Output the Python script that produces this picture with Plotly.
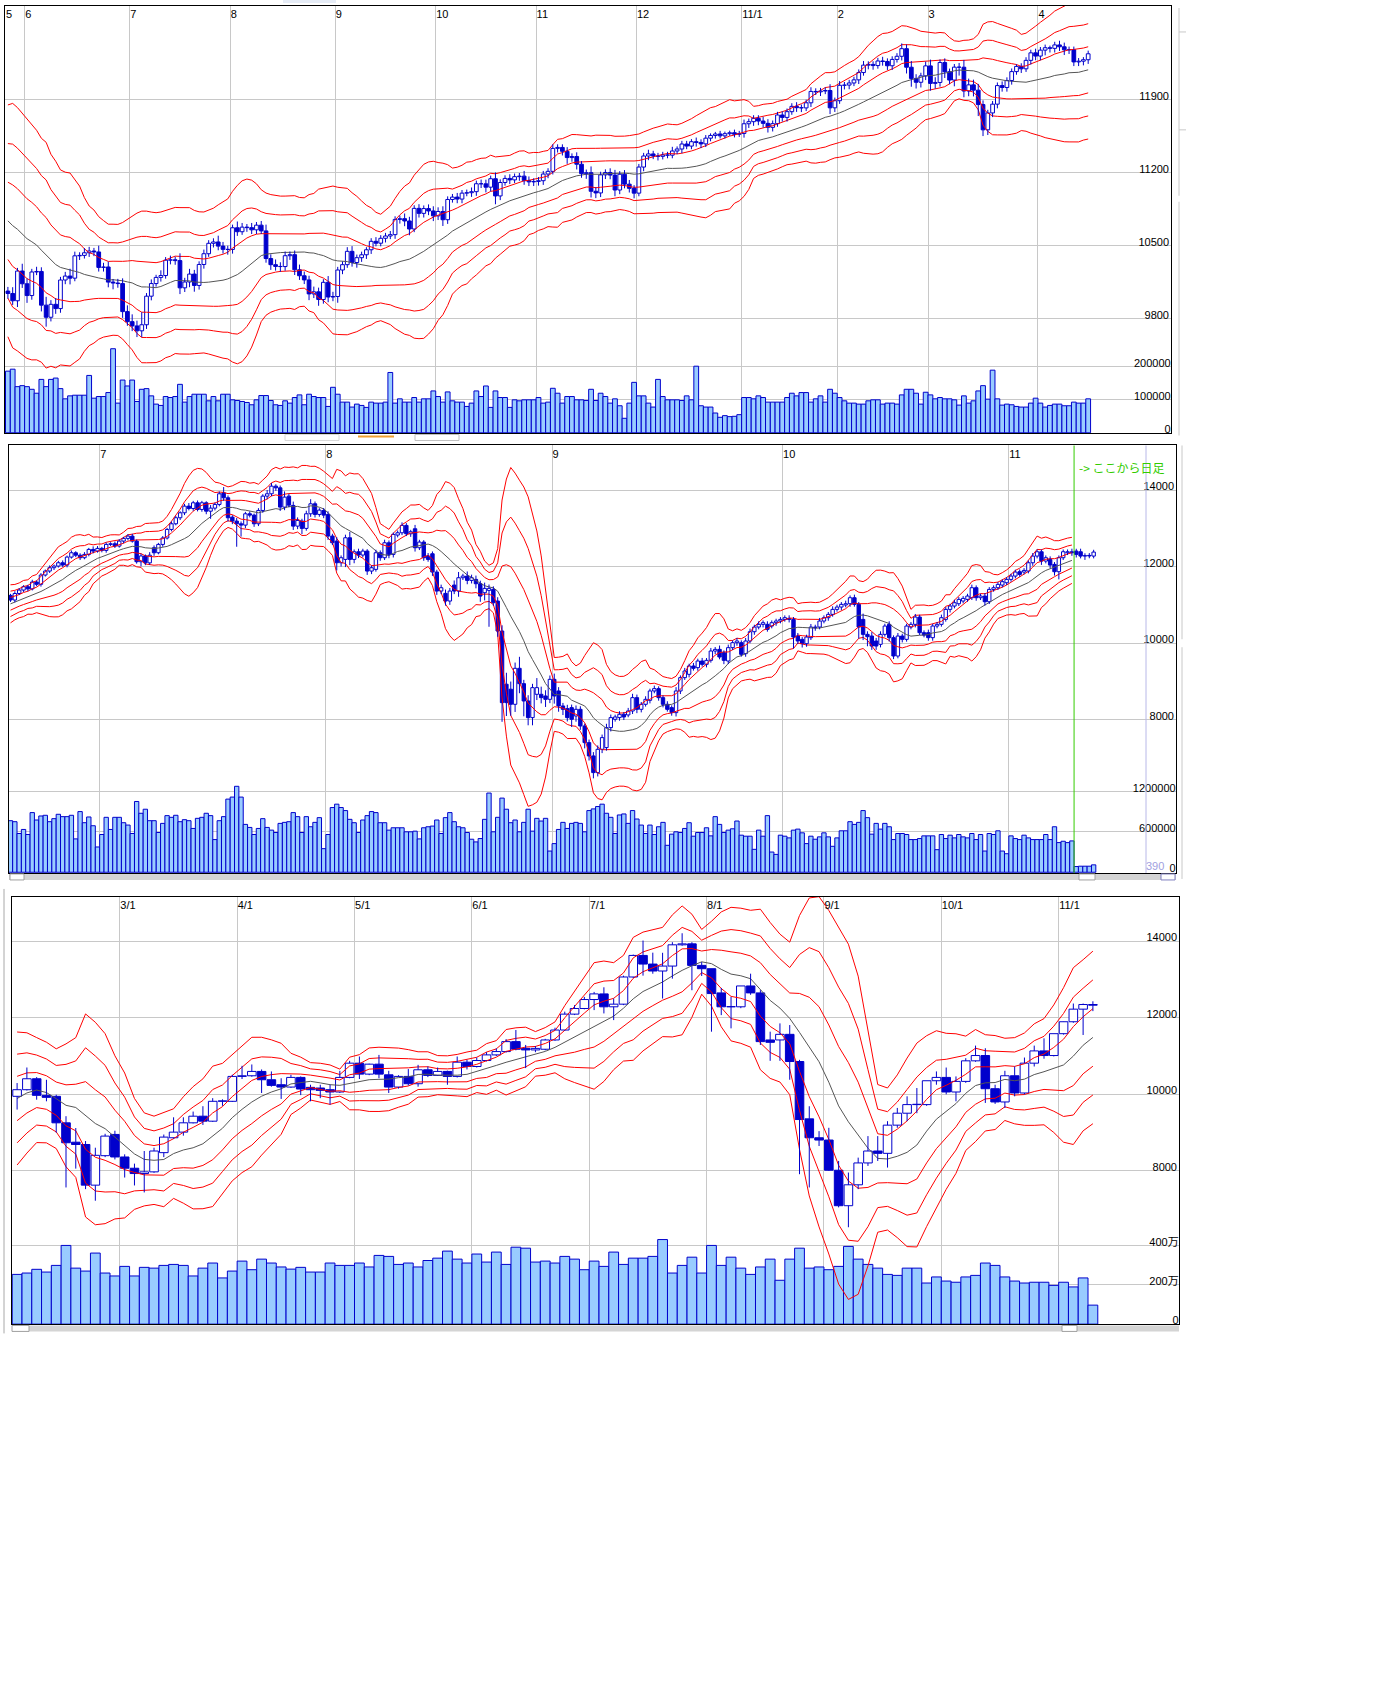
import pandas as pd
import plotly.graph_objects as go

# ---------------------------------------------------------------- data
# Panel 1: daily bars, May 2010 - Apr 2011
p1_months = ["5", "6", "7", "8", "9", "10", "11", "12", "11/1", "2", "3", "4"]
p1_month_start = [0, 4, 26, 47, 69, 90, 111, 132, 154, 174, 193, 216]
p1_lead_close = [11125, 11134, 11204, 11205, 10991, 11045, 11168, 11009, 11151, 10926, 10868, 10520,
                 10380, 10785, 10748, 10897, 10782, 10620, 10625, 10510, 10444, 10068, 10193, 10067]
p1_open = [
    10067, 10044, 9974, 10259, 10137, 10024, 10250, 10255, 9932, 9816,
    9940, 9899, 10173, 10211, 10191, 10405, 10409, 10434, 10451, 10442,
    10294, 10298, 10153, 10144, 10139, 9870, 9774, 9733, 9686, 9744,
    10018, 10139, 10198, 10216, 10363, 10367, 10359, 10098, 10154, 10230,
    10121, 10322, 10425, 10525, 10538, 10498, 10467, 10466, 10674, 10636,
    10680, 10675, 10654, 10699, 10644, 10379, 10320, 10303, 10302, 10406,
    10416, 10271, 10214, 10174, 10040, 10060, 9986, 10151, 10010, 10015,
    10269, 10320, 10448, 10341, 10387, 10415, 10463, 10544, 10526, 10573,
    10595, 10608, 10754, 10761, 10739, 10662, 10860, 10812, 10858, 10835,
    10788, 10830, 10751, 10945, 10968, 10949, 11006, 11010, 11020, 11096,
    11095, 11063, 11144, 10979, 11108, 11147, 11133, 11164, 11169, 11126,
    11114, 11118, 11125, 11189, 11215, 11435, 11444, 11407, 11347, 11357,
    11283, 11193, 11202, 11024, 11008, 11181, 11204, 11179, 11036, 11187,
    11092, 11052, 11006, 11256, 11362, 11382, 11362, 11359, 11372, 11370,
    11410, 11429, 11477, 11457, 11499, 11492, 11478, 11533, 11559, 11573,
    11555, 11576, 11585, 11570, 11578, 11671, 11691, 11723, 11697, 11675,
    11637, 11672, 11755, 11732, 11787, 11838, 11825, 11823, 11872, 11981,
    11977, 11985, 11990, 11824, 11892, 12040, 12042, 12062, 12092, 12162,
    12233, 12240, 12229, 12273, 12268, 12227, 12288, 12318, 12391, 12213,
    12106, 12069, 12130, 12226, 12058, 12067, 12258, 12170, 12090, 12214,
    12213, 11985, 12044, 11993, 11855, 11613, 11775, 11859, 12037, 12019,
    12086, 12171, 12221, 12198, 12279, 12351, 12320, 12377, 12400, 12394,
    12427, 12409, 12380, 12381, 12264, 12271, 12285]
p1_close = [
    10044, 9974, 10259, 10137, 10024, 10250, 10255, 9932, 9816, 9940,
    9899, 10173, 10211, 10191, 10405, 10409, 10434, 10451, 10442, 10294,
    10298, 10153, 10144, 10139, 9870, 9774, 9733, 9686, 9744, 10018,
    10139, 10198, 10216, 10363, 10367, 10359, 10098, 10154, 10230, 10121,
    10322, 10425, 10525, 10538, 10498, 10467, 10466, 10674, 10636, 10680,
    10675, 10654, 10699, 10644, 10379, 10320, 10303, 10302, 10406, 10416,
    10271, 10214, 10174, 10040, 10060, 9986, 10151, 10010, 10015, 10269,
    10320, 10448, 10341, 10387, 10415, 10463, 10544, 10526, 10573, 10595,
    10608, 10754, 10761, 10739, 10662, 10860, 10812, 10858, 10835, 10788,
    10830, 10751, 10945, 10968, 10949, 11006, 11010, 11020, 11096, 11095,
    11063, 11144, 10979, 11108, 11147, 11133, 11164, 11169, 11126, 11114,
    11118, 11125, 11189, 11215, 11435, 11444, 11407, 11347, 11357, 11283,
    11193, 11202, 11024, 11008, 11181, 11204, 11179, 11036, 11187, 11092,
    11052, 11006, 11256, 11362, 11382, 11362, 11359, 11372, 11370, 11410,
    11429, 11477, 11457, 11499, 11492, 11478, 11533, 11559, 11573, 11555,
    11576, 11585, 11570, 11578, 11671, 11691, 11723, 11697, 11675, 11637,
    11672, 11755, 11732, 11787, 11838, 11825, 11823, 11872, 11981, 11977,
    11985, 11990, 11824, 11892, 12040, 12042, 12062, 12092, 12162, 12233,
    12240, 12229, 12273, 12268, 12227, 12288, 12318, 12391, 12213, 12106,
    12069, 12130, 12226, 12058, 12067, 12258, 12170, 12090, 12214, 12213,
    11985, 12044, 11993, 11855, 11613, 11775, 11859, 12037, 12019, 12086,
    12171, 12221, 12198, 12279, 12351, 12320, 12377, 12400, 12394, 12427,
    12409, 12380, 12381, 12264, 12271, 12285, 12342]
p1_wick_up = [
    40, 60, 30, 70, 50, 30, 45, 40, 80, 40,
    60, 30, 40, 70, 40, 30, 45, 40, 30, 60,
    40, 50, 30, 40, 50, 60, 70, 50, 120, 30,
    40, 25, 50, 30, 40, 30, 70, 40, 50, 40,
    30, 40, 30, 35, 60, 40, 35, 30, 60, 40,
    30, 45, 30, 40, 60, 40, 50, 40, 40, 30,
    40, 50, 40, 40, 50, 40, 30, 60, 45, 30,
    30, 40, 50, 30, 30, 25, 30, 40, 30, 30,
    35, 30, 30, 50, 40, 30, 40, 30, 40, 45,
    40, 50, 30, 30, 40, 30, 30, 40, 30, 40,
    40, 30, 60, 30, 30, 40, 30, 30, 50, 40,
    30, 35, 30, 30, 40, 30, 30, 40, 30, 40,
    30, 30, 60, 40, 30, 30, 40, 50, 30, 40,
    40, 30, 30, 30, 40, 30, 30, 30, 30, 40,
    25, 30, 30, 25, 40, 30, 30, 20, 20, 30,
    20, 20, 30, 25, 40, 30, 30, 30, 40, 40,
    30, 30, 35, 30, 30, 40, 30, 30, 40, 30,
    30, 30, 60, 30, 40, 30, 30, 30, 30, 40,
    30, 30, 30, 40, 30, 30, 30, 50, 40, 60,
    40, 30, 40, 60, 50, 30, 40, 30, 30, 40,
    70, 60, 50, 60, 40, 30, 30, 30, 40, 30,
    30, 20, 30, 30, 30, 40, 30, 30, 20, 30,
    40, 40, 30, 30, 30, 25, 30]
p1_wick_dn = [
    50, 40, 60, 40, 70, 40, 30, 60, 90, 40,
    50, 40, 40, 60, 30, 40, 30, 40, 40, 40,
    40, 50, 60, 40, 60, 40, 50, 60, 60, 40,
    40, 30, 40, 30, 40, 40, 60, 40, 50, 60,
    40, 40, 30, 40, 40, 40, 50, 40, 40, 30,
    40, 40, 40, 30, 40, 50, 40, 50, 40, 40,
    50, 40, 40, 60, 40, 60, 40, 50, 40, 60,
    40, 30, 40, 50, 40, 40, 40, 30, 30, 40,
    30, 40, 40, 50, 60, 30, 40, 40, 40, 50,
    40, 60, 40, 30, 40, 40, 30, 40, 40, 40,
    50, 40, 80, 40, 30, 40, 30, 40, 40, 40,
    40, 40, 40, 40, 30, 40, 40, 60, 40, 50,
    40, 50, 60, 50, 40, 40, 40, 60, 40, 40,
    40, 50, 30, 40, 40, 30, 40, 30, 30, 30,
    30, 40, 30, 30, 40, 40, 30, 30, 30, 25,
    25, 20, 30, 25, 40, 40, 40, 40, 40, 50,
    40, 30, 40, 40, 30, 40, 40, 30, 40, 30,
    40, 30, 60, 40, 30, 40, 40, 30, 40, 30,
    40, 40, 30, 40, 40, 40, 30, 40, 60, 80,
    60, 50, 40, 70, 50, 40, 60, 40, 60, 80,
    60, 50, 60, 110, 60, 50, 40, 40, 40, 40,
    40, 30, 40, 30, 40, 40, 40, 50, 40, 40,
    40, 50, 40, 40, 40, 40, 40]
p1_volume = [
    187000, 193000, 140000, 143000, 140000, 132000, 120000, 162000, 140000, 162000,
    166000, 134000, 103000, 112000, 114000, 114000, 114000, 174000, 105000, 110000,
    110000, 122000, 255000, 90000, 160000, 142000, 160000, 95000, 132000, 134000,
    112000, 87000, 83000, 110000, 107000, 110000, 147000, 93000, 110000, 117000,
    117000, 117000, 97000, 110000, 97000, 117000, 117000, 100000, 98000, 95000,
    92000, 85000, 100000, 113000, 113000, 98000, 85000, 83000, 97000, 90000,
    107000, 115000, 85000, 117000, 110000, 107000, 107000, 80000, 138000, 117000,
    93000, 93000, 78000, 87000, 83000, 77000, 93000, 90000, 90000, 93000,
    183000, 90000, 103000, 93000, 93000, 107000, 93000, 103000, 103000, 127000,
    110000, 93000, 124000, 97000, 93000, 93000, 80000, 90000, 127000, 110000,
    142000, 77000, 127000, 107000, 107000, 77000, 100000, 97000, 100000, 100000,
    100000, 107000, 90000, 93000, 135000, 120000, 90000, 110000, 110000, 100000,
    100000, 98000, 132000, 98000, 120000, 110000, 90000, 103000, 82000, 44000,
    90000, 153000, 112000, 112000, 90000, 78000, 162000, 110000, 100000, 100000,
    100000, 98000, 112000, 100000, 202000, 82000, 78000, 78000, 60000, 47000,
    52000, 49000, 50000, 55000, 107000, 107000, 103000, 112000, 107000, 93000,
    93000, 93000, 93000, 107000, 120000, 112000, 122000, 122000, 93000, 103000,
    112000, 93000, 132000, 120000, 107000, 97000, 90000, 90000, 87000, 87000,
    97000, 100000, 100000, 87000, 90000, 90000, 87000, 115000, 132000, 132000,
    120000, 87000, 123000, 115000, 103000, 107000, 103000, 103000, 100000, 84000,
    112000, 90000, 97000, 127000, 143000, 102000, 190000, 103000, 84000, 87000,
    85000, 80000, 78000, 78000, 90000, 105000, 90000, 78000, 83000, 87000,
    87000, 82000, 82000, 93000, 90000, 90000, 103000]
p1_price_ticks = [9800, 10500, 11200, 11900]
p1_volume_ticks = [0, 100000, 200000]
p1_volume_labels = ["0", "100000", "200000"]

# Panel 2: intraday bars Jun-Nov, daily bars after the marker
p2_months = ["7", "8", "9", "10", "11"]
p2_month_start = [21, 73, 125, 178, 230]
p2_daily_start = 245
p2_lead_close = [10720, 10790, 10850, 10900, 10980, 11010, 11060, 11120, 11150, 11200, 11230, 11251]
p2_open = [
    11251, 11130, 11300, 11390, 11477, 11420, 11599, 11540, 11782, 11886,
    11973, 12016, 12103, 12043, 12251, 12364, 12300, 12234, 12321, 12451,
    12408, 12478, 12425, 12582, 12599, 12538, 12669, 12739, 12799, 12669,
    12130, 12280, 12100, 12495, 12364, 12582, 12750, 12973, 13121, 13278,
    13408, 13582, 13521, 13669, 13495, 13669, 13450, 13530, 13626, 13930,
    13800, 13295, 13191, 13121, 13086, 13382, 13347, 13121, 13469, 13843,
    13904, 14104, 14060, 13556, 13843, 13600, 13060, 13191, 13000, 13382,
    13643, 13365, 13469, 13365, 12800, 12669, 12103, 12190, 12756, 12190,
    12390, 12304, 12408, 11886, 11930, 12364, 12234, 12625, 12321, 12826,
    12886, 13078, 12860, 12991, 12495, 12643, 12277, 12338, 11860, 11364,
    11303, 11103, 11520, 11364, 11712, 11755, 11642, 11668, 11555, 11320,
    11381, 11407, 11103, 10320, 8930, 8800, 8406, 9346, 8945, 8493,
    8058, 8667, 8667, 8623, 8536, 9058, 8754, 8362, 8293, 8319,
    8101, 8275, 7840, 7405, 7057, 6622, 7231, 7275, 7797, 8014,
    8058, 8145, 8128, 8232, 8580, 8275, 8406, 8510, 8754, 8815,
    8580, 8406, 8319, 8188, 8754, 9102, 9189, 9406, 9363, 9537,
    9450, 9554, 9798, 9841, 9754, 9537, 9885, 10015, 10015, 9728,
    10059, 10302, 10424, 10494, 10494, 10450, 10537, 10581, 10624, 10650,
    10624, 10189, 10102, 9989, 10146, 10424, 10424, 10581, 10668, 10755,
    10885, 10946, 11000, 11033, 11190, 11016, 10624, 10233, 10189, 10059,
    9972, 10233, 10494, 10146, 9667, 10189, 10102, 10424, 10494, 10685,
    10276, 10276, 10146, 10450, 10494, 10624, 10885, 10972, 11033, 11103,
    11146, 11190, 11451, 11190, 11233, 11085, 11407, 11451, 11520, 11581,
    11668, 11755, 11869, 11860, 11886, 12103, 12277, 12390, 12147, 12190,
    12060, 11869, 12234, 12364, 12390, 12408, 12390, 12277, 12295, 12277]
p2_close = [
    11130, 11300, 11390, 11477, 11420, 11599, 11540, 11782, 11886, 11973,
    12016, 12103, 12043, 12251, 12364, 12300, 12234, 12321, 12451, 12408,
    12478, 12425, 12582, 12599, 12538, 12669, 12739, 12799, 12669, 12130,
    12280, 12100, 12300, 12364, 12582, 12750, 12973, 13121, 13278, 13408,
    13582, 13521, 13669, 13495, 13669, 13450, 13530, 13626, 13904, 13800,
    13278, 13191, 13121, 13086, 13382, 13347, 13121, 13469, 13843, 13904,
    14104, 14060, 13556, 13817, 13608, 13060, 13208, 13000, 13382, 13643,
    13365, 13478, 13347, 12800, 12625, 12103, 12234, 12756, 12190, 12390,
    12304, 12408, 11886, 11973, 12364, 12234, 12625, 12321, 12843, 12886,
    13078, 12860, 12913, 12495, 12643, 12234, 12190, 11860, 11364, 11451,
    11103, 11364, 11364, 11712, 11755, 11642, 11712, 11555, 11233, 11434,
    11434, 11059, 10320, 8449, 8450, 8406, 9346, 8945, 8493, 8058,
    8841, 8841, 8580, 8536, 9058, 8623, 8362, 8275, 8058, 8014,
    8275, 7840, 7405, 7057, 6622, 7231, 7536, 7797, 8058, 8075,
    8145, 8075, 8232, 8580, 8275, 8406, 8536, 8754, 8815, 8580,
    8406, 8275, 8188, 8754, 9102, 9276, 9406, 9346, 9537, 9450,
    9554, 9798, 9841, 9641, 9554, 9885, 10015, 10059, 9711, 10059,
    10302, 10424, 10494, 10537, 10363, 10537, 10581, 10624, 10668, 10624,
    10163, 10059, 9989, 10163, 10424, 10407, 10581, 10668, 10755, 10885,
    10946, 11016, 11033, 11190, 11016, 10424, 10233, 10172, 9928, 9928,
    10233, 10450, 10146, 9667, 10189, 10102, 10450, 10494, 10685, 10276,
    10215, 10146, 10450, 10494, 10668, 10885, 10972, 11059, 11146, 11172,
    11233, 11451, 11190, 11233, 11085, 11407, 11451, 11538, 11608, 11668,
    11755, 11860, 11799, 11903, 12103, 12277, 12390, 12147, 12234, 12043,
    11869, 12234, 12390, 12390, 12364, 12321, 12277, 12290, 12280, 12382]
p2_wick_up = [
    40, 60, 50, 40, 50, 60, 40, 50, 40, 60,
    40, 50, 60, 40, 60, 40, 50, 60, 40, 80,
    60, 40, 50, 40, 60, 50, 40, 50, 60, 40,
    60, 40, 80, 60, 40, 50, 40, 60, 50, 40,
    60, 80, 50, 60, 50, 40, 80, 50, 60, 150,
    60, 50, 80, 60, 50, 60, 40, 60, 50, 100,
    80, 50, 60, 150, 60, 100, 80, 60, 80, 120,
    60, 50, 60, 80, 60, 100, 60, 80, 150, 60,
    80, 60, 50, 60, 80, 60, 80, 60, 50, 60,
    80, 60, 50, 100, 60, 50, 80, 60, 60, 80,
    100, 80, 120, 150, 60, 120, 80, 100, 80, 150,
    100, 80, 100, 150, 300, 200, 150, 300, 100, 150,
    100, 250, 200, 150, 100, 150, 100, 80, 100, 80,
    100, 80, 60, 80, 100, 100, 80, 100, 80, 60,
    80, 60, 80, 100, 80, 60, 80, 60, 80, 60,
    60, 80, 60, 100, 60, 80, 60, 80, 60, 80,
    60, 80, 60, 100, 60, 80, 60, 80, 60, 80,
    80, 60, 80, 60, 80, 60, 60, 60, 60, 80,
    60, 80, 60, 60, 80, 60, 80, 60, 60, 80,
    60, 60, 80, 60, 80, 60, 150, 80, 100, 80,
    80, 60, 80, 60, 80, 60, 60, 60, 80, 60,
    60, 80, 60, 60, 80, 60, 60, 80, 60, 60,
    60, 80, 60, 60, 80, 60, 60, 60, 60, 60,
    60, 60, 60, 60, 60, 80, 60, 60, 60, 80,
    60, 60, 60, 60, 80, 60, 80, 60, 60, 60]
p2_wick_dn = [
    50, 60, 40, 50, 60, 40, 50, 60, 40, 50,
    60, 40, 50, 60, 40, 50, 60, 40, 50, 60,
    40, 50, 60, 40, 50, 40, 60, 50, 40, 50,
    120, 60, 50, 80, 40, 60, 40, 50, 40, 60,
    60, 50, 60, 50, 60, 80, 200, 60, 50, 80,
    100, 80, 600, 300, 80, 60, 80, 60, 60, 80,
    60, 80, 100, 80, 60, 100, 80, 150, 60, 80,
    80, 60, 80, 100, 60, 200, 100, 200, 150, 100,
    80, 60, 100, 80, 60, 80, 60, 100, 80, 60,
    60, 60, 80, 100, 60, 80, 60, 100, 100, 80,
    120, 100, 80, 150, 60, 100, 80, 120, 150, 200,
    950, 80, 150, 500, 350, 300, 200, 250, 400, 200,
    200, 150, 150, 200, 100, 200, 150, 150, 100, 200,
    150, 100, 150, 120, 150, 100, 100, 80, 100, 60,
    80, 80, 60, 80, 100, 80, 60, 80, 60, 80,
    80, 60, 80, 100, 80, 60, 80, 60, 80, 60,
    80, 60, 80, 60, 100, 80, 60, 80, 60, 80,
    60, 80, 60, 80, 60, 60, 80, 60, 60, 80,
    300, 80, 100, 80, 60, 80, 60, 60, 80, 60,
    60, 80, 60, 80, 60, 300, 150, 250, 100, 100,
    80, 60, 100, 80, 60, 80, 60, 60, 80, 60,
    60, 80, 80, 60, 60, 60, 80, 60, 60, 60,
    60, 60, 80, 60, 100, 60, 60, 60, 60, 60,
    60, 60, 60, 60, 60, 80, 60, 100, 60, 80,
    100, 200, 60, 60, 80, 80, 60, 100, 60, 60]
p2_volume = [
    765000, 750000, 575000, 635000, 560000, 885000, 775000, 835000, 845000, 750000,
    795000, 860000, 825000, 825000, 845000, 495000, 900000, 735000, 820000, 690000,
    375000, 560000, 815000, 635000, 815000, 815000, 735000, 700000, 575000, 1050000,
    875000, 935000, 765000, 765000, 590000, 725000, 840000, 815000, 845000, 750000,
    780000, 765000, 650000, 800000, 815000, 875000, 840000, 485000, 765000, 825000,
    1085000, 1115000, 1275000, 1115000, 710000, 665000, 560000, 650000, 795000, 665000,
    625000, 590000, 725000, 740000, 750000, 885000, 825000, 590000, 825000, 675000,
    740000, 810000, 350000, 560000, 960000, 1010000, 960000, 915000, 785000, 735000,
    590000, 775000, 840000, 900000, 885000, 735000, 735000, 625000, 660000, 660000,
    660000, 600000, 600000, 610000, 495000, 660000, 675000, 685000, 775000, 575000,
    810000, 885000, 750000, 675000, 660000, 590000, 490000, 450000, 500000, 785000,
    1175000, 600000, 815000, 1100000, 935000, 735000, 775000, 600000, 740000, 935000,
    610000, 800000, 760000, 800000, 315000, 425000, 635000, 740000, 650000, 725000,
    740000, 725000, 600000, 915000, 940000, 975000, 1010000, 875000, 815000, 575000,
    850000, 865000, 725000, 915000, 790000, 700000, 575000, 700000, 560000, 675000,
    740000, 400000, 565000, 600000, 590000, 650000, 735000, 535000, 590000, 590000,
    660000, 540000, 825000, 710000, 590000, 625000, 645000, 760000, 550000, 535000,
    535000, 340000, 625000, 535000, 840000, 300000, 265000, 550000, 535000, 510000,
    625000, 640000, 585000, 425000, 535000, 490000, 525000, 585000, 525000, 385000,
    510000, 615000, 615000, 750000, 710000, 740000, 915000, 810000, 565000, 725000,
    640000, 725000, 675000, 485000, 575000, 575000, 560000, 485000, 485000, 500000,
    540000, 540000, 540000, 335000, 560000, 500000, 550000, 510000, 560000, 525000,
    510000, 575000, 485000, 560000, 315000, 575000, 560000, 615000, 315000, 275000,
    540000, 500000, 485000, 550000, 510000, 485000, 485000, 485000, 560000, 485000,
    675000, 440000, 460000, 440000, 465000, 85000, 90000, 90000, 90000, 110000]
p2_price_ticks = [8000, 10000, 12000, 14000]
p2_volume_ticks = [0, 600000, 1200000]
p2_volume_labels = ["0", "600000", "1200000"]

# Panel 3: multi-day bars, Feb - Nov (volume in 万)
p3_months = ["3/1", "4/1", "5/1", "6/1", "7/1", "8/1", "9/1", "10/1", "11/1"]
p3_month_start = [11, 23, 35, 47, 59, 71, 83, 95, 107]
p3_lead_close = [9100, 9300, 10500, 10700, 10300, 9200, 9500, 10300]
p3_open = [
    9948, 10121, 10407, 9974, 9948, 9256, 8750, 8690, 7628, 8398,
    8953, 8364, 8070, 7931, 7975, 8477, 8866, 9013, 9256, 9429,
    9299, 9818, 9818, 10468, 10485, 10598, 10381, 10251, 10190, 10442,
    10182, 10165, 10121, 10061, 10442, 10814, 10528, 10788, 10510, 10190,
    10468, 10277, 10641, 10494, 10598, 10468, 10840, 10727, 10883, 11030,
    11117, 11377, 11200, 11160, 11178, 11420, 11680, 12095, 12242, 12476,
    12623, 12286, 12355, 13065, 13628, 13402, 13221, 13350, 13905, 13930,
    13368, 13281, 12649, 12286, 12286, 12831, 12649, 11420, 11420, 11567,
    10857, 9360, 8866, 8806, 8018, 7091, 7637, 8208, 8520, 8459,
    9195, 9507, 9732, 9732, 10355, 10442, 10061, 10338, 10875, 11013,
    10147, 9801, 10485, 10035, 10814, 11134, 11013, 11584, 11896, 12225,
    12346]
p3_high = [
    10295, 10701, 10450, 10380, 9990, 9429, 9120, 8780, 8606, 8970,
    9050, 8433, 8190, 8520, 8606, 8950, 9400, 9400, 9550, 9690,
    9900, 9870, 10510, 10745, 10780, 10650, 10598, 10420, 10510, 10468,
    10251, 10251, 10251, 10615, 10875, 10988, 10800, 11030, 10615, 10500,
    10660, 10770, 10727, 10700, 10620, 10988, 10901, 10960, 11100, 11200,
    11440, 11680, 11290, 11260, 11450, 11740, 12160, 12330, 12545, 12675,
    12796, 12502, 13100, 13650, 14017, 13700, 13697, 13974, 14207, 13974,
    13454, 13281, 12779, 12545, 12831, 13151, 12719, 11636, 11853, 11810,
    10901, 9689, 9039, 9126, 8260, 7957, 8347, 8909, 8909, 9299,
    9645, 9948, 10165, 10355, 10598, 10700, 10468, 10944, 11273, 11204,
    10251, 10615, 10727, 10961, 11273, 11463, 11584, 11900, 12372, 12372,
    12430]
p3_low = [
    9602, 10100, 9860, 9818, 9000, 7568, 8060, 7524, 7221, 8360,
    8300, 7827, 7620, 7438, 7950, 8360, 8840, 8920, 9240, 9200,
    9280, 9700, 9800, 10400, 10460, 10035, 10200, 9880, 10170, 9980,
    9818, 9900, 9732, 10035, 10420, 10400, 10500, 10420, 10035, 10150,
    10230, 10200, 10450, 10480, 10250, 10440, 10650, 10700, 10860, 11000,
    11090, 11150, 10685, 11100, 11150, 11400, 11660, 12070, 12220, 12200,
    12113, 11939, 12330, 13040, 13100, 13150, 12502, 13022, 13880, 12719,
    13091, 11636, 12069, 11723, 12250, 12600, 11290, 10875, 10875, 10381,
    7914, 7568, 8650, 8000, 7048, 6529, 7524, 8130, 8260, 8087,
    9126, 9299, 9507, 9700, 10251, 10000, 9818, 10300, 10850, 9775,
    9750, 9645, 9948, 10000, 10727, 10930, 10990, 11560, 11870, 11550,
    12173]
p3_close = [
    10121, 10407, 9974, 9922, 9256, 8736, 8690, 7628, 8407, 8909,
    8364, 8070, 7931, 7975, 8520, 8883, 9013, 9256, 9429, 9299,
    9818, 9830, 10468, 10485, 10598, 10381, 10234, 10190, 10442, 10139,
    10121, 10104, 10061, 10442, 10814, 10528, 10788, 10528, 10190, 10468,
    10277, 10641, 10494, 10598, 10468, 10840, 10727, 10883, 11030, 11117,
    11377, 11178, 11160, 11200, 11420, 11680, 12095, 12242, 12476, 12623,
    12286, 12355, 13065, 13628, 13402, 13221, 13350, 13905, 13930, 13368,
    13281, 12632, 12286, 12290, 12831, 12649, 11377, 11359, 11567, 10857,
    9342, 8866, 8806, 8018, 7091, 7637, 8208, 8520, 8459, 9195,
    9507, 9732, 9740, 10355, 10442, 10061, 10338, 10875, 11013, 10147,
    9801, 10485, 10035, 10814, 11134, 11013, 11584, 11896, 12225, 12346,
    12329]
p3_volume = [
    254, 261, 280, 266, 300, 402, 286, 271, 363, 261,
    246, 295, 246, 290, 286, 300, 305, 300, 246, 286,
    312, 236, 271, 322, 278, 332, 312, 292, 281, 290,
    266, 266, 312, 300, 300, 312, 292, 351, 346, 305,
    312, 292, 325, 337, 373, 332, 312, 358, 317, 368,
    305, 393, 388, 317, 322, 312, 346, 332, 278, 322,
    295, 368, 305, 337, 337, 346, 432, 261, 300, 342,
    261, 402, 300, 342, 286, 254, 292, 332, 224, 332,
    388, 286, 292, 278, 295, 397, 332, 305, 286, 254,
    249, 286, 286, 210, 241, 220, 214, 241, 249, 312,
    300, 241, 220, 210, 214, 214, 198, 214, 190, 236, 97]
p3_price_ticks = [8000, 10000, 12000, 14000]
p3_volume_ticks = [0, 200, 400]
p3_volume_labels = ["0", "200万", "400万"]

for name, seq, n in [("p1_open", p1_open, 227), ("p1_close", p1_close, 227), ("p1_wick_up", p1_wick_up, 227),
                     ("p1_wick_dn", p1_wick_dn, 227), ("p1_volume", p1_volume, 227),
                     ("p2_open", p2_open, 250), ("p2_close", p2_close, 250), ("p2_wick_up", p2_wick_up, 250),
                     ("p2_wick_dn", p2_wick_dn, 250), ("p2_volume", p2_volume, 250),
                     ("p3_open", p3_open, 111), ("p3_high", p3_high, 111), ("p3_low", p3_low, 111),
                     ("p3_close", p3_close, 111), ("p3_volume", p3_volume, 111)]:
    assert len(seq) == n, (name, len(seq))

# ---------------------------------------------------------------- styling
W, H = 1392, 1688
NUM_FONT = "Liberation Sans, Noto Sans CJK JP"
JP_FONT = "Noto Sans CJK JP"
CANDLE = "#0000cc"
VOL_FILL = "#99ccff"
BAND = "#ff0000"
MID = "#555555"
GRID = "#c8c8c8"
LABEL_SHIFT = 4

fig = go.Figure()
axes = {}
shapes = []
annotations = []


def lin(cal, p):
    v1, p1, v2, p2 = cal
    return v1 + (p - p1) * (v2 - v1) / (p2 - p1)


def bollinger(lead, closes, n):
    s = pd.Series(list(lead) + list(closes), dtype=float)
    mid = s.rolling(n).mean().iloc[len(lead):].to_numpy()
    sd = s.rolling(n).std(ddof=0).iloc[len(lead):].to_numpy()
    return mid, sd


def add_panel(k, frame, c0, step, price_cal, vol_cal, opens, highs, lows, closes, vols,
              lead, n_band, band_len, month_start, months, price_ticks, vol_ticks, vol_labels, body_w):
    left, right, top, bottom = frame
    xa = "x" if k == 1 else f"x{k}"
    nv, np_ = 2 * k - 1, 2 * k
    yv = "y" if nv == 1 else f"y{nv}"
    yp = f"y{np_}"
    idx = list(range(len(closes)))

    fig.add_trace(go.Bar(x=idx, y=vols, width=1.0, xaxis=xa, yaxis=yv, hoverinfo="skip",
                         marker=dict(color=VOL_FILL, line=dict(color=CANDLE, width=1))))

    mid, sd = bollinger(lead, closes[:band_len], n_band)
    bx = idx[:band_len]
    for m in (3, 2, 1, -1, -2, -3):
        fig.add_trace(go.Scatter(x=bx, y=mid + m * sd, mode="lines", xaxis=xa, yaxis=yp,
                                 line=dict(color=BAND, width=1), hoverinfo="skip"))
    fig.add_trace(go.Scatter(x=bx, y=mid, mode="lines", xaxis=xa, yaxis=yp,
                             line=dict(color=MID, width=1), hoverinfo="skip"))

    body_lo = [min(o, c) for o, c in zip(opens, closes)]
    body_hi = [max(o, c) for o, c in zip(opens, closes)]
    wx, wy = [], []
    for i in idx:
        if highs[i] > body_hi[i]:
            wx += [i, i, None]
            wy += [body_hi[i], highs[i], None]
        if lows[i] < body_lo[i]:
            wx += [i, i, None]
            wy += [lows[i], body_lo[i], None]
    fig.add_trace(go.Scatter(x=wx, y=wy, mode="lines", xaxis=xa, yaxis=yp, connectgaps=False,
                             line=dict(color=CANDLE, width=1), hoverinfo="skip"))
    fig.add_trace(go.Bar(x=idx, base=body_lo, y=[h - l for h, l in zip(body_hi, body_lo)],
                         width=body_w, xaxis=xa, yaxis=yp, hoverinfo="skip",
                         marker=dict(color=["#ffffff" if c >= o else CANDLE for o, c in zip(opens, closes)],
                                     line=dict(color=CANDLE, width=1))))

    tickfont = dict(family=NUM_FONT, size=11, color="#000000")
    axes["xaxis" if k == 1 else f"xaxis{k}"] = dict(
        domain=[left / W, right / W], anchor=yv,
        range=[(left - c0) / step, (right - c0) / step],
        side="top", tickmode="array", tickvals=[m - 0.5 for m in month_start], ticktext=months,
        ticks="", ticklabelposition="inside right", ticklabelstandoff=1, tickfont=tickfont,
        showgrid=True, gridcolor=GRID, gridwidth=1, zeroline=False,
        showline=True, mirror=True, linecolor="#000000", linewidth=1, fixedrange=True)
    axes["yaxis" if nv == 1 else f"yaxis{nv}"] = dict(
        domain=[1 - bottom / H, 1 - top / H], anchor=xa,
        range=[lin(vol_cal, bottom), lin(vol_cal, top)],
        side="right", tickmode="array", tickvals=vol_ticks, ticktext=vol_labels,
        ticks="", ticklabelposition="inside top", ticklabelstandoff=-1, ticklabelshift=LABEL_SHIFT,
        ticklabeloverflow="allow", tickfont=tickfont,
        showgrid=True, gridcolor=GRID, gridwidth=1, zeroline=False,
        showline=True, mirror=True, linecolor="#000000", linewidth=1, fixedrange=True)
    axes[f"yaxis{np_}"] = dict(
        overlaying=yv, anchor=xa, side="right",
        range=[lin(price_cal, bottom), lin(price_cal, top)],
        tickmode="array", tickvals=price_ticks, ticktext=[str(t) for t in price_ticks],
        ticks="", ticklabelposition="inside top", ticklabelstandoff=-1, ticklabelshift=LABEL_SHIFT,
        ticklabeloverflow="allow", tickfont=tickfont,
        showgrid=True, gridcolor=GRID, gridwidth=1, zeroline=False, showline=False, fixedrange=True)


p1_high = [max(o, c) + w for o, c, w in zip(p1_open, p1_close, p1_wick_up)]
p1_low = [min(o, c) - w for o, c, w in zip(p1_open, p1_close, p1_wick_dn)]
p2_high = [max(o, c) + w for o, c, w in zip(p2_open, p2_close, p2_wick_up)]
p2_low = [min(o, c) - w for o, c, w in zip(p2_open, p2_close, p2_wick_dn)]

add_panel(1, (5, 1171, 6, 434), 7.9, 4.78, (11900, 100.0, 9800, 319.3), (0, 433.3, 200000, 367.3),
          p1_open, p1_high, p1_low, p1_close, p1_volume, p1_lead_close, 25, len(p1_close),
          p1_month_start, p1_months, p1_price_ticks, p1_volume_ticks, p1_volume_labels, 0.78)
add_panel(2, (9, 1176, 446, 874), 10.5, 4.35, (14000, 490.7, 8000, 720.7), (0, 873.3, 1200000, 792.3),
          p2_open, p2_high, p2_low, p2_close, p2_volume, p2_lead_close, 13, p2_daily_start,
          p2_month_start, p2_months, p2_price_ticks, p2_volume_ticks, p2_volume_labels, 0.78)
add_panel(3, (12, 1179, 898, 1326), 17.1, 9.78, (14000, 942.3, 8000, 1172.3), (0, 1325.7, 400, 1247.3),
          p3_open, p3_high, p3_low, p3_close, p3_volume, p3_lead_close, 9, len(p3_close),
          p3_month_start, p3_months, p3_price_ticks, p3_volume_ticks, p3_volume_labels, 0.88)


def px_rect(x0, y0, x1, y1, fill, line, lw=1):
    shapes.append(dict(type="rect", xref="paper", yref="paper", x0=x0 / W, x1=x1 / W,
                       y0=1 - y1 / H, y1=1 - y0 / H, fillcolor=fill,
                       line=dict(color=line, width=lw), layer="above"))


def px_line(x0, y0, x1, y1, color, lw=1):
    shapes.append(dict(type="line", xref="paper", yref="paper", x0=x0 / W, x1=x1 / W,
                       y0=1 - y0 / H, y1=1 - y1 / H, line=dict(color=color, width=lw), layer="above"))


# switch from intraday to daily bars in the middle panel
shapes.append(dict(type="line", xref="x2", yref="y3 domain", x0=p2_daily_start - 0.5,
                   x1=p2_daily_start - 0.5, y0=0, y1=1, line=dict(color="#33cc00", width=1), layer="above"))
annotations.append(dict(text="-> ここから日足", xref="x2", x=p2_daily_start - 0.5, xanchor="left", xshift=3,
                        yref="paper", y=1 - 468 / H, yanchor="middle", showarrow=False,
                        font=dict(family=JP_FONT, size=12, color="#33cc00")))
annotations.append(dict(text="390", xref="paper", x=1166 / W, xanchor="right", yref="paper",
                        y=1 - 867 / H, yanchor="middle", showarrow=False,
                        font=dict(family=NUM_FONT, size=11, color="#a0a0e0")))
px_line(1146, 446, 1146, 874, "#b8b8e8")

# scroll bars and window chrome
px_rect(9, 875, 1176, 881, "#d4d4d4", "#d4d4d4", 0)
px_rect(10, 875, 24, 881, "#ffffff", "#a0a0a0")
px_rect(1079, 875, 1095, 881, "#ffffff", "#a0a0a0")
px_rect(1161, 875, 1175, 881, "#ffffff", "#8080c0")
px_rect(12, 1327, 1179, 1333, "#d4d4d4", "#d4d4d4", 0)
px_rect(12, 1327, 29, 1333, "#ffffff", "#a0a0a0")
px_rect(1062, 1327, 1077, 1333, "#ffffff", "#a0a0a0")
px_rect(285, 435, 339, 441, "#ffffff", "#d8d8d8")
px_line(358, 437, 394, 437, "#f0a030", 2)
px_rect(415, 435, 459, 441, "#ffffff", "#c0c0c0")
px_rect(283, 0, 336, 3, "#e6ecf6", "#e6ecf6", 0)
px_line(4, 890, 4, 1335, "#a8a8a8")
px_line(1179, 8, 1179, 196, "#c8c8c8")
px_line(1179, 32, 1186, 32, "#c8c8c8")
px_line(1179, 130, 1186, 130, "#c8c8c8")
px_line(1179, 202, 1179, 436, "#c8c8c8")
px_line(1182, 446, 1182, 640, "#c8c8c8")
px_line(1182, 648, 1182, 880, "#c8c8c8")

fig.update_layout(
    width=W, height=H, margin=dict(l=0, r=0, t=0, b=0),
    paper_bgcolor="#ffffff", plot_bgcolor="#ffffff",
    showlegend=False, barmode="overlay", shapes=shapes, annotations=annotations,
    **axes)

fig.write_html("out.html")
